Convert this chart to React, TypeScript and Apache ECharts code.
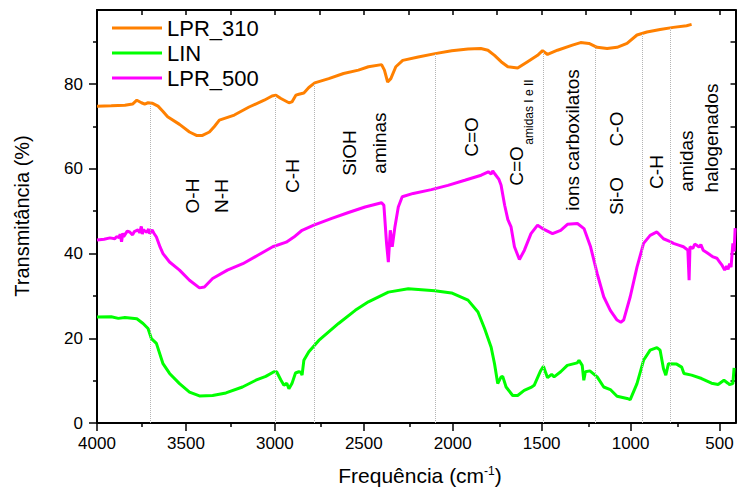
import React, { useEffect, useRef } from 'react';
import * as echarts from 'echarts';

const FONT = 'Liberation Sans, Arial, Helvetica, sans-serif';

const seriesNames = ['LPR_310', 'LIN', 'LPR_500'];
const seriesColors = ['#FF8000', '#00FF00', '#FF00FF'];

const lpr310: [number, number][] = [
  [4000, 74.8], [3920, 74.9], [3843, 75.0], [3800, 75.3], [3776, 76.2], [3750, 75.6], [3732, 75.3],
  [3713, 75.6], [3690, 75.5], [3657, 74.8], [3630, 73.6], [3603, 72.3], [3536, 70.5], [3480, 68.7],
  [3441, 67.9], [3407, 67.9], [3368, 68.7], [3340, 70.0], [3312, 71.5], [3228, 72.7], [3145, 74.6],
  [3060, 76.2], [3016, 77.2], [2994, 77.4], [2966, 76.6], [2921, 75.6], [2904, 75.8], [2882, 77.4],
  [2865, 77.6], [2837, 77.9], [2809, 79.2], [2776, 80.3], [2697, 81.3], [2614, 82.5], [2530, 83.3],
  [2474, 84.1], [2400, 84.6], [2384, 83.3], [2366, 80.5], [2348, 81.3], [2320, 84.1], [2281, 85.6],
  [2194, 86.4], [2099, 87.2], [2006, 87.9], [1914, 88.3], [1842, 88.4], [1802, 88.0], [1765, 86.8],
  [1728, 85.3], [1690, 84.1], [1635, 83.8], [1579, 85.3], [1523, 86.8], [1495, 87.9], [1467, 87.0],
  [1411, 88.0], [1327, 89.2], [1281, 89.8], [1234, 89.6], [1188, 88.7], [1132, 88.4], [1076, 88.7],
  [1020, 89.6], [964, 91.6], [908, 92.3], [834, 92.9], [760, 93.4], [685, 93.8], [657, 94.1],
];

const lin: [number, number][] = [
  [4000, 25.0], [3920, 25.1], [3880, 24.7], [3843, 24.9], [3776, 24.6], [3741, 23.5], [3713, 22.3], [3694, 19.9],
  [3666, 18.8], [3629, 14.0], [3592, 11.7], [3536, 9.3], [3480, 7.3], [3424, 6.4], [3350, 6.5],
  [3275, 7.1], [3182, 8.5], [3107, 10.1], [3051, 11.0], [3005, 12.1], [2990, 12.1], [2967, 10.2],
  [2949, 8.9], [2933, 9.4], [2921, 8.1], [2904, 9.3], [2884, 11.8], [2865, 12.1], [2855, 12.0],
  [2847, 11.3], [2837, 14.8], [2809, 16.8], [2753, 19.5], [2642, 23.5], [2548, 26.6], [2474, 28.6],
  [2362, 30.9], [2250, 31.7], [2101, 31.2], [2007, 30.7], [1914, 29.0], [1858, 26.2], [1821, 22.3],
  [1784, 17.9], [1765, 14.0], [1747, 9.3], [1728, 10.9], [1719, 11.0], [1700, 8.5], [1663, 6.5],
  [1635, 6.5], [1598, 7.7], [1560, 8.4], [1542, 8.9], [1505, 12.4], [1490, 13.4], [1467, 10.7],
  [1444, 11.5], [1430, 10.9], [1393, 12.1], [1356, 13.6], [1300, 14.2], [1290, 14.8], [1272, 13.6],
  [1263, 10.1], [1254, 12.1], [1229, 12.3], [1188, 10.9], [1151, 8.5], [1114, 7.9], [1076, 6.3],
  [1020, 5.8], [1002, 5.5], [964, 9.3], [927, 14.8], [890, 17.2], [852, 17.8], [834, 17.2],
  [815, 12.8], [802, 11.3], [787, 14.0], [741, 13.9], [713, 13.2], [700, 11.7], [657, 11.3],
  [601, 10.5], [545, 9.4], [508, 9.1], [475, 10.1], [453, 9.4], [444, 9.1], [425, 9.3], [418, 13.0],
];

const lpr500: [number, number][] = [
  [4000, 43.2], [3960, 43.4], [3927, 43.7], [3900, 43.5], [3890, 44.0], [3875, 43.8], [3870, 44.6], [3862, 42.8],
  [3855, 44.8], [3850, 44.0], [3830, 45.3], [3816, 45.1], [3800, 44.4], [3790, 45.2], [3770, 45.6],
  [3760, 44.9], [3751, 46.4], [3745, 44.6], [3740, 45.6], [3720, 45.0], [3710, 45.8], [3704, 44.7],
  [3690, 45.6], [3680, 44.8], [3666, 43.9], [3645, 41.5], [3629, 40.0], [3592, 38.0], [3536, 36.1], [3480, 33.7],
  [3424, 31.9], [3396, 32.1], [3350, 34.1], [3267, 36.1], [3180, 37.6], [3096, 39.6], [3012, 41.6],
  [2936, 42.7], [2893, 43.9], [2847, 45.5], [2781, 46.7], [2680, 48.3], [2586, 49.7], [2493, 51.0],
  [2400, 52.0], [2387, 51.4], [2372, 42.4], [2362, 38.0], [2351, 45.5], [2340, 41.6], [2325, 46.3],
  [2306, 51.0], [2284, 53.4], [2222, 54.2], [2120, 55.1], [2027, 56.1], [1932, 57.3], [1840, 58.5],
  [1800, 59.3], [1784, 58.8], [1775, 59.5], [1765, 58.9], [1740, 57.5], [1728, 56.1], [1708, 51.4], [1690, 48.0], [1672, 46.3],
  [1653, 41.6], [1625, 38.6], [1597, 40.8], [1560, 44.7], [1523, 46.7], [1495, 45.9], [1439, 44.7],
  [1393, 45.5], [1355, 46.9], [1299, 47.1], [1262, 45.9], [1225, 41.6], [1188, 35.3], [1151, 29.8],
  [1114, 26.6], [1076, 24.3], [1055, 23.8], [1039, 24.3], [1002, 29.8], [964, 36.8], [927, 42.4],
  [890, 44.3], [852, 45.1], [815, 43.5], [780, 42.9], [759, 42.4], [730, 42.0], [703, 41.6], [690, 41.2], [678, 40.8], [671, 33.7],
  [666, 41.6], [650, 41.2], [640, 42.2], [629, 42.0], [615, 41.5], [605, 42.1], [592, 40.8], [570, 40.2],
  [550, 39.6], [536, 39.2], [515, 38.9], [499, 38.0], [485, 37.2], [471, 36.1], [460, 37.0], [452, 36.3],
  [443, 37.6], [435, 36.8], [425, 42.4], [418, 40.5], [412, 46.0],
];

// dotted drop lines: [wavenumber, top value on LPR_310]
const dropLines: [number, number][] = [
  [3700, 75.6], [3000, 77.3], [2780, 80.2], [2100, 87.2], [1490, 87.8], [1200, 88.9], [935, 92.0], [775, 93.3],
];

const xMajorTicks = [500, 1000, 1500, 2000, 2500, 3000, 3500, 4000];
const xMinorTicks = [750, 1250, 1750, 2250, 2750, 3250, 3750];
const xTopTicks = [500, 750, 1000, 1250, 1500, 1750, 2000, 2250, 2500, 2750, 3000, 3250, 3500, 3750, 4000];
const yMajorTicks = [0, 20, 40, 60, 80];
const yMinorTicks = [10, 30, 50, 70, 90];
const yRightTicks = [0, 10, 20, 30, 40, 50, 60, 70, 80, 90];

const X_MIN = 410;
const X_MAX = 4000;
const Y_MIN = 0;
const Y_MAX = 97.5;

const xTitle = 'Frequência (cm';
const xTitleSup = '-1';
const yTitle = 'Transmitância (%)';

function rotText(text: string, x: number, y: number, size = 19) {
  return {
    type: 'text',
    x,
    y,
    rotation: Math.PI / 2,
    silent: true,
    style: {
      text,
      fill: '#000',
      fontSize: size,
      fontFamily: FONT,
      align: 'center',
      verticalAlign: 'middle',
    },
  };
}

export default function App() {
  const ref = useRef<HTMLDivElement>(null);

  useEffect(() => {
    document.body.style.margin = '0';
    if (!ref.current) return;
    const chart = echarts.init(ref.current, null, { renderer: 'svg' });
    const axisColor = '#000';
    const gridBox = { left: 97, right: 1, top: 10, bottom: 64 };
    const plain = (v: number) => String(v);

    const series: any[] = [lpr310, lin, lpr500].map((d, i) => ({
      name: seriesNames[i],
      type: 'line',
      xAxisIndex: 0,
      yAxisIndex: 0,
      data: d,
      symbol: 'none',
      showSymbol: false,
      lineStyle: { color: seriesColors[i], width: 3 },
      itemStyle: { color: seriesColors[i] },
      z: 3,
    }));
    series[0].markLine = {
      silent: true,
      symbol: ['none', 'none'],
      label: { show: false },
      lineStyle: { type: 'dotted', color: '#b4b4b4', width: 1 },
      data: dropLines.map(([x, y]) => [{ coord: [x, 0] }, { coord: [x, y] }]),
    };
    const option: any = {
      animation: false,
      backgroundColor: '#ffffff',
      grid: [
        { ...gridBox, containLabel: false },
        { ...gridBox, containLabel: false },
      ],
      legend: {
        show: true,
        orient: 'vertical',
        left: 107,
        top: 12,
        data: seriesNames,
        icon: 'rect',
        itemWidth: 50,
        itemHeight: 3,
        itemGap: 3,
        selectedMode: false,
        textStyle: { color: '#000', fontSize: 22, fontFamily: FONT },
      },
      xAxis: [
        {
          type: 'value', gridIndex: 0, position: 'bottom', inverse: true, min: X_MIN, max: X_MAX,
          axisLine: { show: true, onZero: false, lineStyle: { color: axisColor, width: 2 } },
          axisTick: { show: true, inside: false, length: 8, customValues: xMajorTicks, lineStyle: { color: axisColor, width: 1.5 } },
          axisLabel: { show: true, customValues: xMajorTicks, formatter: plain, margin: 12, color: '#000', fontSize: 17, fontFamily: FONT },
          splitLine: { show: false },
        },
        {
          type: 'value', gridIndex: 0, position: 'top', inverse: true, min: X_MIN, max: X_MAX,
          axisLine: { show: true, onZero: false, lineStyle: { color: axisColor, width: 2 } },
          axisTick: { show: true, inside: true, length: 5, customValues: xTopTicks, lineStyle: { color: axisColor, width: 1.5 } },
          axisLabel: { show: false },
          splitLine: { show: false },
        },
        {
          type: 'value', gridIndex: 1, position: 'bottom', inverse: true, min: X_MIN, max: X_MAX,
          axisLine: { show: false, onZero: false },
          axisTick: { show: true, inside: false, length: 4, customValues: xMinorTicks, lineStyle: { color: axisColor, width: 1.5 } },
          axisLabel: { show: false },
          splitLine: { show: false },
        },
      ],
      yAxis: [
        {
          type: 'value', gridIndex: 0, position: 'left', min: Y_MIN, max: Y_MAX,
          axisLine: { show: true, onZero: false, lineStyle: { color: axisColor, width: 2 } },
          axisTick: { show: true, inside: false, length: 8, customValues: yMajorTicks, lineStyle: { color: axisColor, width: 1.5 } },
          axisLabel: { show: true, customValues: yMajorTicks, formatter: plain, margin: 14, color: '#000', fontSize: 17, fontFamily: FONT },
          splitLine: { show: false },
        },
        {
          type: 'value', gridIndex: 0, position: 'right', min: Y_MIN, max: Y_MAX,
          axisLine: { show: true, onZero: false, lineStyle: { color: axisColor, width: 2 } },
          axisTick: { show: true, inside: true, length: 5, customValues: yRightTicks, lineStyle: { color: axisColor, width: 1.5 } },
          axisLabel: { show: false },
          splitLine: { show: false },
        },
        {
          type: 'value', gridIndex: 1, position: 'left', min: Y_MIN, max: Y_MAX,
          axisLine: { show: false, onZero: false },
          axisTick: { show: true, inside: false, length: 4, customValues: yMinorTicks, lineStyle: { color: axisColor, width: 1.5 } },
          axisLabel: { show: false },
          splitLine: { show: false },
        },
      ],
      series,
      graphic: [
        {
          type: 'text',
          x: 420,
          y: 475,
          silent: true,
          style: {
            text: `{a|${xTitle}}{s|${xTitleSup}}{a|)}`,
            align: 'center',
            verticalAlign: 'middle',
            fill: '#000',
            rich: {
              a: { fontSize: 21, fontFamily: FONT, fill: '#000', color: '#000' },
              s: { fontSize: 12, fontFamily: FONT, fill: '#000', color: '#000', verticalAlign: 'top' },
            },
          },
        },
        {
          type: 'text',
          x: 22,
          y: 216,
          rotation: Math.PI / 2,
          silent: true,
          style: { text: yTitle, fill: '#000', fontSize: 20, fontFamily: FONT, align: 'center', verticalAlign: 'middle' },
        },
        rotText('O-H', 192, 196),
        rotText('N-H', 221, 196),
        rotText('C-H', 292, 176),
        rotText('SiOH', 349, 153),
        rotText('aminas', 379, 143),
        rotText('C=O', 471, 137),
        rotText('C=O', 516, 166),
        rotText('amidas I e II', 529, 112, 12),
        rotText('ions carboxilatos', 572, 140),
        rotText('Si-O', 616, 196),
        rotText('C-O', 616, 129),
        rotText('C-H', 656, 172),
        rotText('amidas', 686, 161),
        rotText('halogenados', 711, 138),
      ],
    };
    chart.setOption(option);
    return () => chart.dispose();
  }, []);

  return <div ref={ref} style={{ width: 740, height: 487 }} />;
}
